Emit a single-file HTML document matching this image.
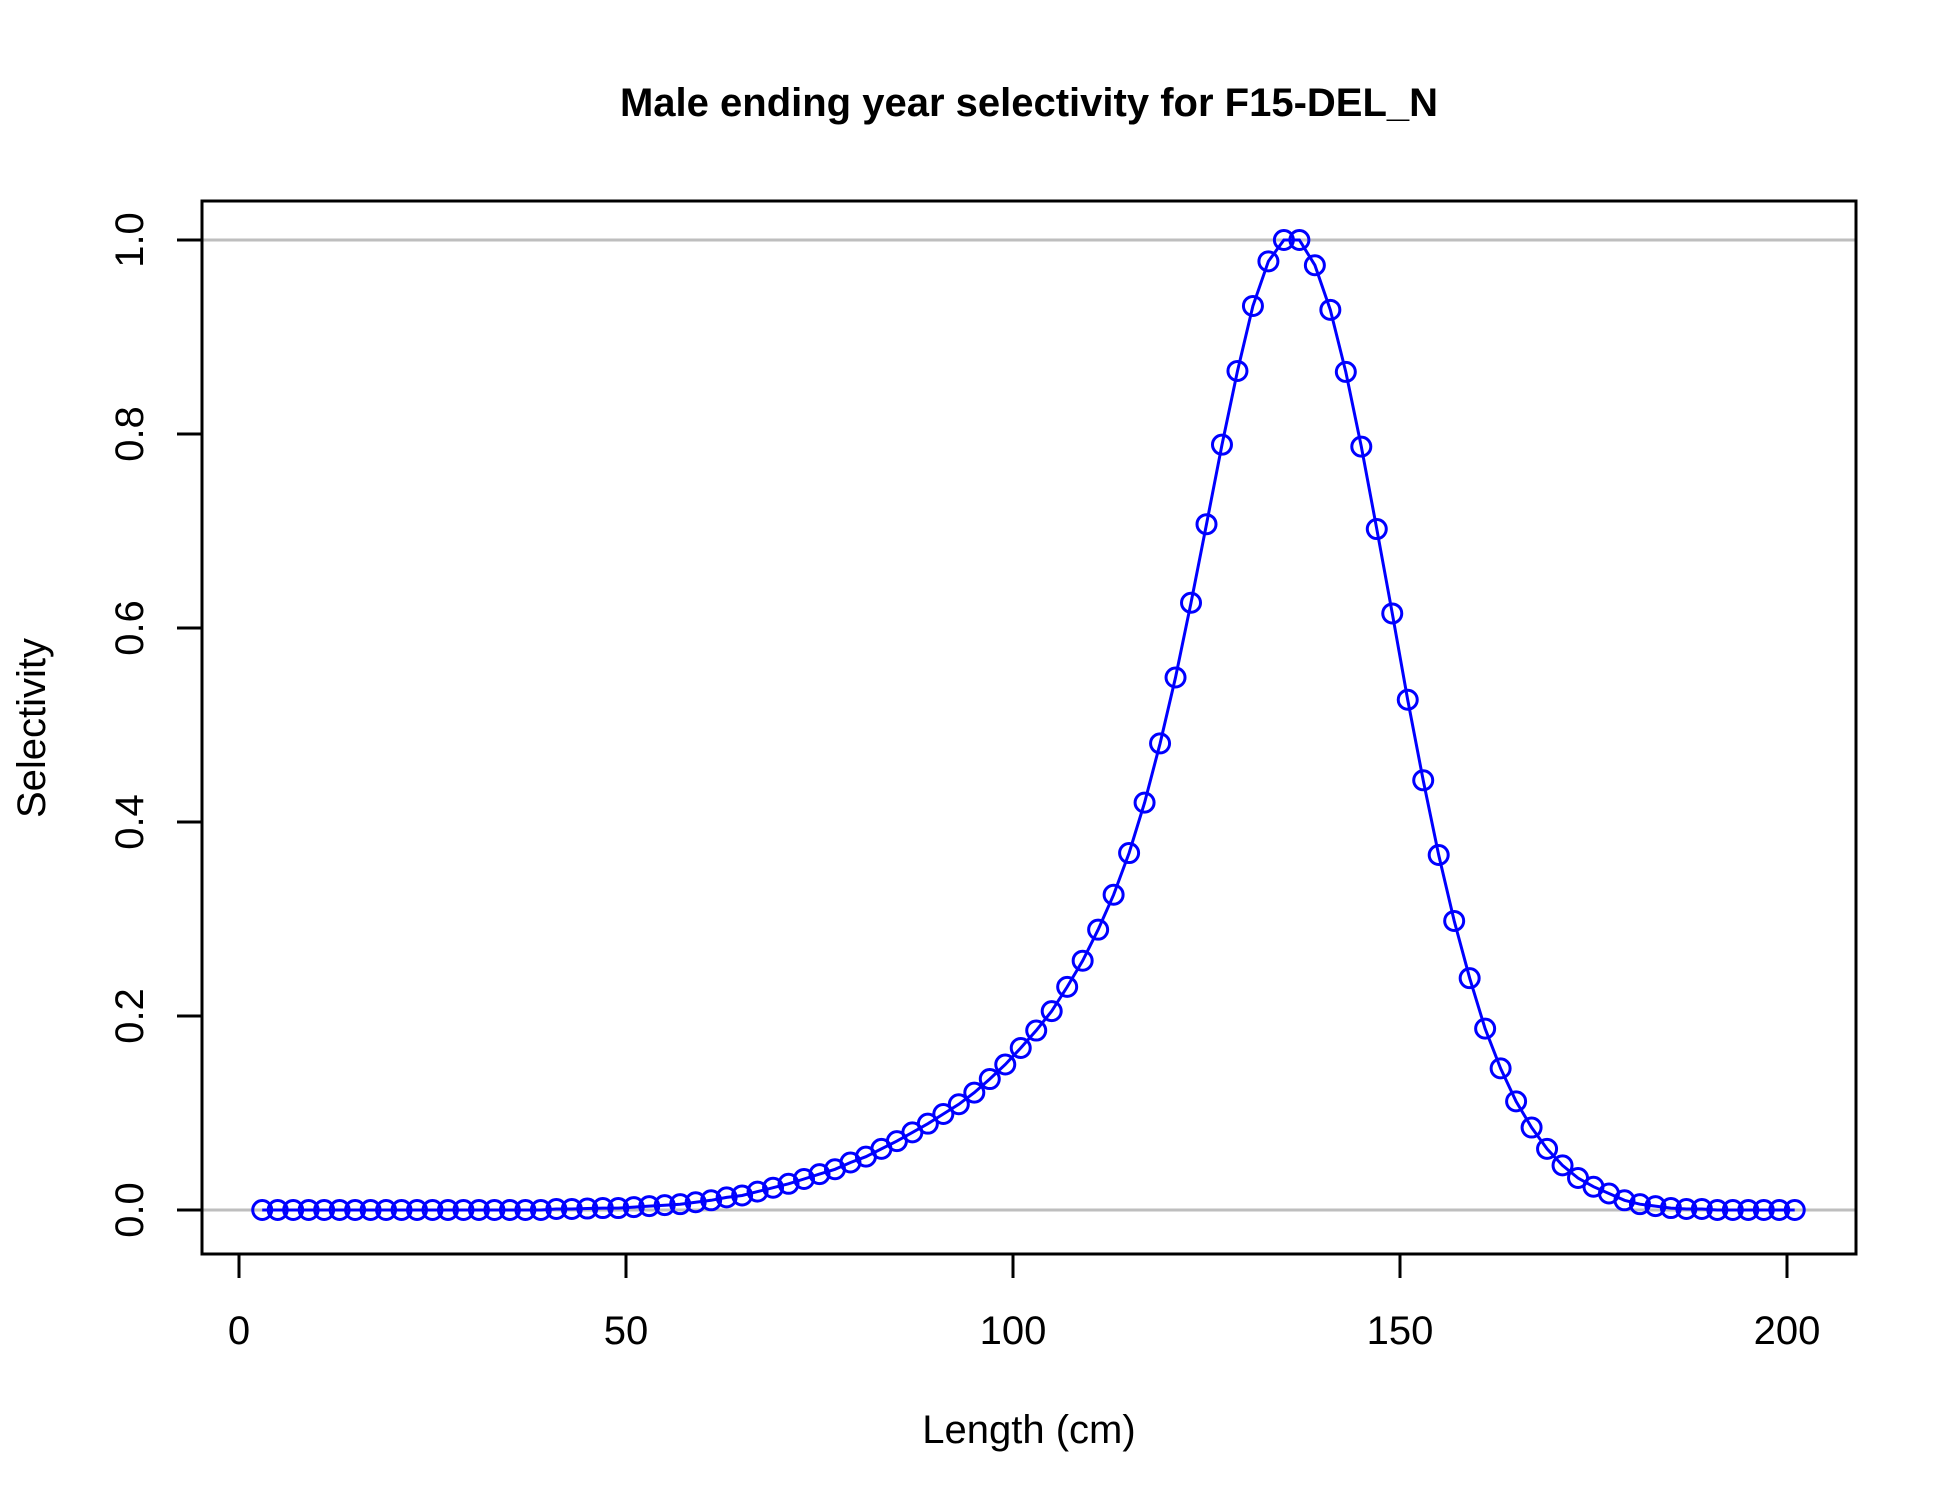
<!DOCTYPE html>
<html><head><meta charset="utf-8"><style>
html,body{margin:0;padding:0;background:#fff;}
svg{display:block;font-family:"Liberation Sans",Arial,sans-serif;}
</style></head><body>
<svg id="chart" width="1950" height="1500" viewBox="0 0 1950 1500" xmlns="http://www.w3.org/2000/svg">
<rect width="1950" height="1500" fill="#fff"/>
<text x="1029" y="116" text-anchor="middle" font-size="40" font-weight="bold">Male ending year selectivity for F15-DEL_N</text>
<text x="1029" y="1443" text-anchor="middle" font-size="40">Length (cm)</text>
<text transform="translate(45,728) rotate(-90)" text-anchor="middle" font-size="40">Selectivity</text>
<g id="grid"></g>
<g id="axes"></g>
<g id="series"></g>
<rect x="202" y="201" width="1654" height="1053" fill="none" stroke="#000" stroke-width="3"/>
</svg>
<script>
const lengths = [];
for (let l = 3; l <= 201; l += 2) lengths.push(l);
const selectivity = [
0,0,0,0,0,0,0,0,0,0,
0,0,0,0,0,0,0,0,0,0.001,
0.001,0.0015,0.002,0.002,0.003,0.004,0.005,0.006,0.008,0.010,
0.013,0.015,0.019,0.023,0.027,0.032,0.037,0.042,0.049,0.055,
0.063,0.071,0.080,0.089,0.099,0.109,0.121,0.135,0.150,0.167,
0.185,0.205,0.230,0.257,0.289,0.325,0.368,0.420,0.481,0.549,
0.626,0.707,0.789,0.865,0.932,0.978,1.0,1.0,0.974,0.928,
0.864,0.787,0.702,0.615,0.526,0.443,0.366,0.298,0.239,0.187,
0.146,0.112,0.085,0.063,0.046,0.033,0.024,0.017,0.010,0.006,
0.004,0.002,0.001,0.001,0,0,0,0,0,0
];
const xTicks = [0,50,100,150,200];
const yTicks = [0,0.2,0.4,0.6,0.8,1.0];
const yTickLabels = ["0.0","0.2","0.4","0.6","0.8","1.0"];
const refLines = [0,1];

const NS = "http://www.w3.org/2000/svg";
function X(v){ return 239 + (v - 0) * (1787 - 239) / 200; }
function Y(v){ return 1210 - v * (1210 - 240); }
function mk(tag, attrs, parent){
  const e = document.createElementNS(NS, tag);
  for (const k in attrs) e.setAttribute(k, attrs[k]);
  parent.appendChild(e);
  return e;
}
const grid = document.getElementById('grid');
const axes = document.getElementById('axes');
const series = document.getElementById('series');

refLines.forEach(v => {
  const l = mk('line', {x1:202, x2:1856, y1:Y(v), y2:Y(v), stroke:'#bebebe', 'stroke-width':3}, grid);
  
  
});
xTicks.forEach(v => {
  const t = mk('line', {x1:X(v), x2:X(v), y1:1254, y2:1278, stroke:'#000', 'stroke-width':3}, axes);
  
  
  const tx = mk('text', {x:X(v), y:1344, 'text-anchor':'middle', 'font-size':40}, axes);
  tx.textContent = String(v);
  
  
});
yTicks.forEach((v, i) => {
  const t = mk('line', {x1:177, x2:202, y1:Y(v), y2:Y(v), stroke:'#000', 'stroke-width':3}, axes);
  
  
  const tx = mk('text', {transform:'translate(143,' + Y(v) + ') rotate(-90)', 'text-anchor':'middle', 'font-size':40}, axes);
  tx.textContent = yTickLabels[i];
  
  
});
const pts = lengths.map((l, i) => X(l).toFixed(1) + ',' + Y(selectivity[i]).toFixed(1)).join(' ');
const line = mk('polyline', {points:pts, fill:'none', stroke:'#0000ff', 'stroke-width':3}, series);


lengths.forEach((l, i) => {
  const c = mk('circle', {cx:X(l), cy:Y(selectivity[i]), r:9.5, fill:'none', stroke:'#0000ff', 'stroke-width':3}, series);
  
  
});
</script>
</body></html>
